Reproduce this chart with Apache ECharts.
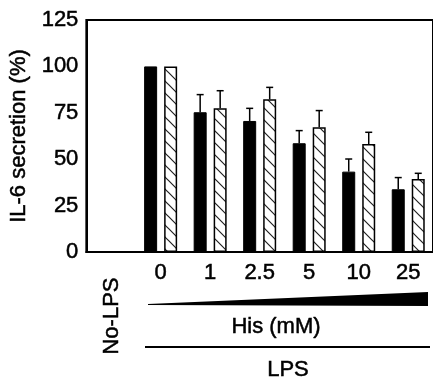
<!DOCTYPE html>
<html><head><meta charset="utf-8">
<script src="https://cdn.jsdelivr.net/npm/echarts@6/dist/echarts.min.js"></script>
<style>html,body{margin:0;padding:0;background:#fff}#c{width:433px;height:383px}</style>
</head><body><div id="c"></div>
<script>
const categories = ['No-LPS', '0', '1', '2.5', '5', '10', '25'];
const solidValues = [null, 100, 75.3, 70.6, 58.6, 43.3, 33.8];
const solidErrors = [null, 0, 9.5, 6.8, 6.8, 6.8, 6.3];
const hatchValues = [null, 100, 77.4, 82.3, 67.2, 58.2, 39.3];
const hatchErrors = [null, 0, 9.5, 6.4, 9.0, 6.3, 3.1];
const yTicks = [0, 25, 50, 75, 100, 125];
const yTitle = 'IL-6 secretion (%)';
const xTitle = 'His (mM)';
const groupTitle = 'LPS';
const controlLabel = 'No-LPS';

const FONT = 'Liberation Sans, Arial, sans-serif';
const FS = 22;
const TB = {textBorderColor: '#000', textBorderWidth: 0.5};
const BAR_W = 13, GAP = 7;
const offs = [-(BAR_W + GAP) / 2, (BAR_W + GAP) / 2];

const pc = document.createElement('canvas');
pc.width = 12; pc.height = 12;
const g = pc.getContext('2d');
g.fillStyle = '#fff'; g.fillRect(0, 0, 12, 12);
g.strokeStyle = '#222'; g.lineWidth = 1.2;
g.beginPath();
g.moveTo(-1, -1); g.lineTo(13, 13);
g.moveTo(-1, 11); g.lineTo(1, 13);
g.moveTo(11, -1); g.lineTo(13, 1);
g.stroke();

function errSeries(vals, errs, off) {
  return {
    type: 'custom',
    z: 5,
    data: vals.map((v, i) => [i, v, errs[i]]),
    renderItem: function (params, api) {
      const v = api.value(1), e = api.value(2);
      if (v == null || isNaN(v) || !e) return null;
      const p0 = api.coord([api.value(0), v]);
      const p1 = api.coord([api.value(0), v + e]);
      const x = p0[0] + off;
      return {
        type: 'group',
        children: [
          {type: 'line', shape: {x1: x, y1: p0[1], x2: x, y2: p1[1]}, style: {stroke: '#000', lineWidth: 1.5}},
          {type: 'line', shape: {x1: x - 3.5, y1: p1[1], x2: x + 3.5, y2: p1[1]}, style: {stroke: '#000', lineWidth: 1.5}}
        ]
      };
    }
  };
}

const chart = echarts.init(document.getElementById('c'));
chart.setOption({
  animation: false,
  backgroundColor: '#fff',
  grid: {left: 86, top: 20, width: 350, bottom: 131, show: true, borderColor: '#000', borderWidth: 2, backgroundColor: 'transparent'},
  xAxis: {
    type: 'category',
    data: categories,
    axisLine: {lineStyle: {color: '#000', width: 2}},
    axisTick: {inside: true, length: 6, lineStyle: {color: '#000', width: 2}},
    axisLabel: Object.assign({
      color: '#000', fontSize: FS, fontFamily: FONT, margin: 10,
      formatter: (v, i) => i === 0 ? '' : v
    }, TB)
  },
  yAxis: {
    type: 'value', min: yTicks[0], max: yTicks[yTicks.length - 1], interval: 25,
    name: yTitle, nameLocation: 'middle', nameGap: 45,
    nameTextStyle: Object.assign({color: '#000', fontSize: FS, fontFamily: FONT}, TB),
    axisLine: {show: true, lineStyle: {color: '#000', width: 2}},
    axisTick: {inside: true, length: 6, lineStyle: {color: '#000', width: 2}},
    axisLabel: Object.assign({color: '#000', fontSize: FS, fontFamily: FONT, margin: 8}, TB),
    splitLine: {show: false}
  },
  series: [
    {type: 'bar', data: solidValues, barWidth: BAR_W, barGap: (GAP / BAR_W * 100) + '%',
     itemStyle: {color: '#000', borderColor: '#000', borderWidth: 1}},
    {type: 'bar', data: hatchValues, barWidth: BAR_W,
     itemStyle: {color: {image: pc, repeat: 'repeat'}, borderColor: '#000', borderWidth: 1.5}},
    errSeries(solidValues, solidErrors, offs[0]),
    errSeries(hatchValues, hatchErrors, offs[1])
  ],
  graphic: [
    {type: 'text', x: 112, y: 316, rotation: Math.PI / 2, style: Object.assign({text: controlLabel, fill: '#000', font: FS + 'px ' + FONT, align: 'center', verticalAlign: 'middle', stroke: '#000', lineWidth: 0.5})},
    {type: 'polygon', shape: {points: [[148, 304], [428, 292], [428, 306], [148, 305]]}, style: {fill: '#000'}},
    {type: 'text', x: 276, y: 327, style: {text: xTitle, fill: '#000', font: FS + 'px ' + FONT, align: 'center', verticalAlign: 'middle', stroke: '#000', lineWidth: 0.5}},
    {type: 'line', shape: {x1: 145, y1: 347, x2: 430, y2: 347}, style: {stroke: '#000', lineWidth: 2}},
    {type: 'text', x: 288, y: 370, style: {text: groupTitle, fill: '#000', font: FS + 'px ' + FONT, align: 'center', verticalAlign: 'middle', stroke: '#000', lineWidth: 0.5}}
  ]
});
</script></body></html>
